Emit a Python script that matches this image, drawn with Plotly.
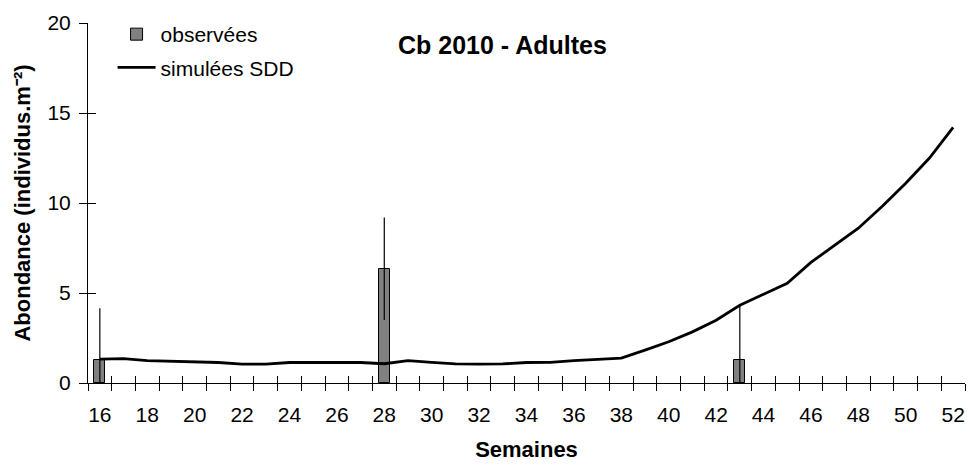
import plotly.graph_objects as go

# weeks and simulated abundance (SDD model)
weeks = list(range(16, 53))
simulated = [1.33, 1.35, 1.24, 1.2, 1.16, 1.14, 1.05, 1.05, 1.14, 1.15, 1.15, 1.14, 1.07,
             1.24, 1.15, 1.06, 1.05, 1.06, 1.14, 1.15, 1.24, 1.3, 1.38, 1.83, 2.29, 2.84,
             3.49, 4.32, 4.93, 5.54, 6.7, 7.65, 8.6, 9.8, 11.1, 12.5, 14.2]

# observed abundance with error (sd)
obs_weeks = [16, 28, 43]
observed = [1.3, 6.35, 1.3]
obs_err = [2.85, 2.85, 3.0]

tick_weeks = list(range(16, 53, 2))
between_ticks = [w + 0.5 for w in range(15, 53)]
y_ticks = [0, 5, 10, 15, 20]

FONT = "Arial, Liberation Sans, sans-serif"
X_RANGE = [15.5, 52.5]
Y_RANGE = [0, 20]

fig = go.Figure()

fig.add_trace(go.Bar(
    x=obs_weeks, y=observed, name='observées', width=0.46,
    marker=dict(color='#808080', line=dict(color='black', width=1)),
    error_y=dict(type='data', array=obs_err, color='black', thickness=1.2, width=0),
    legendgroup='a'
))
fig.add_trace(go.Scatter(
    x=weeks, y=simulated, mode='lines', name='simulées SDD',
    line=dict(color='black', width=2.8), legendgroup='b'
))
# empty trace so the overlay axes (inside half of the crossing ticks) get drawn
fig.add_trace(go.Scatter(x=[], y=[], xaxis='x2', yaxis='y2', showlegend=False, hoverinfo='skip'))

fig.add_annotation(text="<b>Cb 2010 - Adultes</b>", x=0.473, y=0.938, xref='paper', yref='paper',
                   xanchor='center', yanchor='middle', showarrow=False,
                   font=dict(size=25, color='black', family=FONT))

fig.update_layout(
    width=970, height=466,
    plot_bgcolor='white', paper_bgcolor='white',
    font=dict(family=FONT, color='black', size=21),
    margin=dict(l=88, r=5, t=23, b=83, autoexpand=False),
    bargap=0,
    showlegend=True,
    legend=dict(x=0.028, y=1.025, xanchor='left', yanchor='top', bgcolor='rgba(0,0,0,0)',
                font=dict(size=21), traceorder='grouped', tracegroupgap=3, itemwidth=38),
    xaxis=dict(range=X_RANGE, tickvals=tick_weeks, ticks='outside', ticklen=7,
               tickcolor='rgba(0,0,0,0)', showline=True, linecolor='black', linewidth=1,
               showgrid=False, zeroline=False, tickfont=dict(size=21), ticklabelstandoff=6,
               automargin=False,
               minor=dict(tickvals=between_ticks, ticks='outside', ticklen=7, tickcolor='black', tickwidth=1),
               title=dict(text='<b>Semaines</b>', font=dict(size=22), standoff=16)),
    yaxis=dict(range=Y_RANGE, tickvals=y_ticks, ticks='outside', ticklen=8,
               tickcolor='black', showline=True, linecolor='black', linewidth=1,
               showgrid=False, zeroline=False, tickfont=dict(size=21), ticklabelstandoff=4,
               automargin=False,
               title=dict(text='<b>Abondance (individus.m⁻²)</b>', font=dict(size=22), standoff=10)),
    xaxis2=dict(range=X_RANGE, overlaying='x', anchor='y2', side='bottom', tickvals=between_ticks,
                ticks='inside', ticklen=7, tickcolor='black', showticklabels=False,
                showline=False, showgrid=False, zeroline=False),
    yaxis2=dict(range=Y_RANGE, overlaying='y', anchor='x2', side='left', tickvals=y_ticks,
                ticks='inside', ticklen=8, tickcolor='black', showticklabels=False,
                showline=False, showgrid=False, zeroline=False),
)

# page body has a default 8px margin; remove it so the figure sits at the window corner
fig.write_html("out.html", config={'displayModeBar': False},
               post_script="document.body.style.margin='0';")
